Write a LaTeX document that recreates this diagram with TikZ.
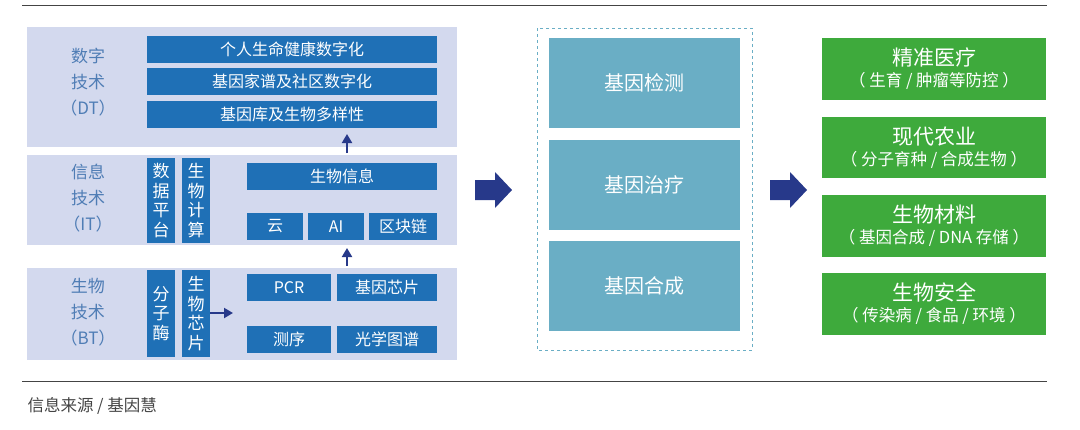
\documentclass[tikz,border=0pt]{standalone}
\usepackage{fontspec}
\setmainfont{Noto Sans CJK SC}
\usetikzlibrary{arrows.meta}
\definecolor{panel}{HTML}{D3D9EE}
\definecolor{bar}{HTML}{1F70B6}
\definecolor{lbl}{HTML}{4F7DB5}
\definecolor{navy}{HTML}{27398A}
\definecolor{teal}{HTML}{6AAEC5}
\definecolor{grn}{HTML}{3EAA3C}
\definecolor{rule}{HTML}{444444}
\begin{document}
\begin{tikzpicture}[x=1pt,y=-1pt,
 panel/.style={fill=panel,draw=none},
 bar/.style={fill=bar,draw=none,text=white,font=\fontsize{16}{18}\selectfont,inner sep=0},
 vbar/.style={bar,align=center,font=\fontsize{17}{19.5}\selectfont},
 lab/.style={text=lbl,align=center,font=\fontsize{17}{26}\selectfont},
 tbox/.style={fill=teal,draw=none,text=white,font=\fontsize{20}{22}\selectfont},
 gbox/.style={fill=grn,draw=none,text=white,align=center,font=\fontsize{16.5}{18}\selectfont},
 big/.style={fill=navy,draw=none},
 up/.style={draw=navy,line width=2pt,-{Triangle[length=9pt,width=10pt]}}]
\useasboundingbox (0,0) rectangle (1080,429);
\draw[rule,line width=1pt] (22,5) -- (1047,5);
\draw[rule,line width=1pt] (22,381) -- (1047,381);
% panels
\fill[panel] (27,27) rectangle (457,147);
\fill[panel] (27,155) rectangle (457,245);
\fill[panel] (27,268) rectangle (457,360);
\node[lab] (dt) at (88,82) {数字\\技术\\（DT）};
\node[lab] (it) at (88,198) {信息\\技术\\（IT）};
\node[lab] (bt) at (88,312) {生物\\技术\\（BT）};
% DT bars
\node[bar,minimum width=290pt,minimum height=27pt] (d1) at (292,49) {个人生命健康数字化};
\node[bar,minimum width=290pt,minimum height=27pt] (d2) at (292,81.5) {基因家谱及社区数字化};
\node[bar,minimum width=290pt,minimum height=27pt] (d3) at (292,114.5) {基因库及生物多样性};
% IT
\node[vbar,minimum width=28pt,minimum height=85pt] (i1) at (161,200.5) {数\\据\\平\\台};
\node[vbar,minimum width=28pt,minimum height=85pt] (i2) at (196,200.5) {生\\物\\计\\算};
\node[bar,minimum width=190pt,minimum height=27pt] (bi) at (342,176.5) {生物信息};
\node[bar,minimum width=56pt,minimum height=27pt] (yun) at (275,226.5) {云};
\node[bar,minimum width=56pt,minimum height=27pt] (ai) at (336,226.5) {AI};
\node[bar,minimum width=68pt,minimum height=27pt] (qk) at (403,226.5) {区块链};
% BT
\node[vbar,minimum width=28pt,minimum height=87pt] (b1) at (161,313.5) {分\\子\\酶};
\node[vbar,minimum width=28pt,minimum height=87pt] (b2) at (196,313.5) {生\\物\\芯\\片};
\node[bar,minimum width=84pt,minimum height=27pt] (pcr) at (289,287.5) {PCR};
\node[bar,minimum width=100pt,minimum height=27pt] (xp) at (387,287.5) {基因芯片};
\node[bar,minimum width=84pt,minimum height=27pt] (cx) at (289,339.5) {测序};
\node[bar,minimum width=100pt,minimum height=27pt] (gx) at (387,339.5) {光学图谱};
\coordinate (bx) at (233,313);
\draw[up] (b2.east|-bx) -- (bx);
\coordinate (a1) at (347,266);
\coordinate (a2) at (347,248);
\draw[up] (a1) -- (a2);
\coordinate (a3) at (347,153);
\coordinate (a4) at (347,134);
\draw[up] (a3) -- (a4);
% big arrows
\coordinate (ar1) at (475,190);
\coordinate (ar2) at (770,190);
\foreach \c in {ar1,ar2}
  \fill[big] ([shift={(0,-10)}]\c) -- ++(20,0) -- ++(0,-8) -- ++(17,18) -- ++(-17,18) -- ++(0,-8) -- ++(-20,0) -- cycle;
% middle
\draw[teal,dashed,line width=0.7pt] (537,28) rectangle (752,350);
\node[tbox,minimum width=191pt,minimum height=90pt] (t1) at (644.5,83) {基因检测};
\node[tbox,minimum width=191pt,minimum height=90pt] (t2) at (644.5,185) {基因治疗};
\node[tbox,minimum width=191pt,minimum height=90pt] (t3) at (644.5,286) {基因合成};
% right
\node[gbox,minimum width=224pt,minimum height=62pt] (g1) at (934,69) {{\fontsize{21}{22}\selectfont 精准医疗}\\[3pt]（ 生育 / 肿瘤等防控 ）};
\node[gbox,minimum width=224pt,minimum height=61pt] (g2) at (934,147.5) {{\fontsize{21}{22}\selectfont 现代农业}\\[3pt]（ 分子育种 / 合成生物 ）};
\node[gbox,minimum width=224pt,minimum height=62pt] (g3) at (934,226) {{\fontsize{21}{22}\selectfont 生物材料}\\[3pt]（ 基因合成 / DNA 存储 ）};
\node[gbox,minimum width=224pt,minimum height=62pt] (g4) at (934,304) {{\fontsize{21}{22}\selectfont 生物安全}\\[3pt]（ 传染病 / 食品 / 环境 ）};
\node[anchor=west,text=rule,font=\fontsize{16.5}{18}\selectfont] (src) at (24,406) {信息来源 / 基因慧};
\end{tikzpicture}
\end{document}
